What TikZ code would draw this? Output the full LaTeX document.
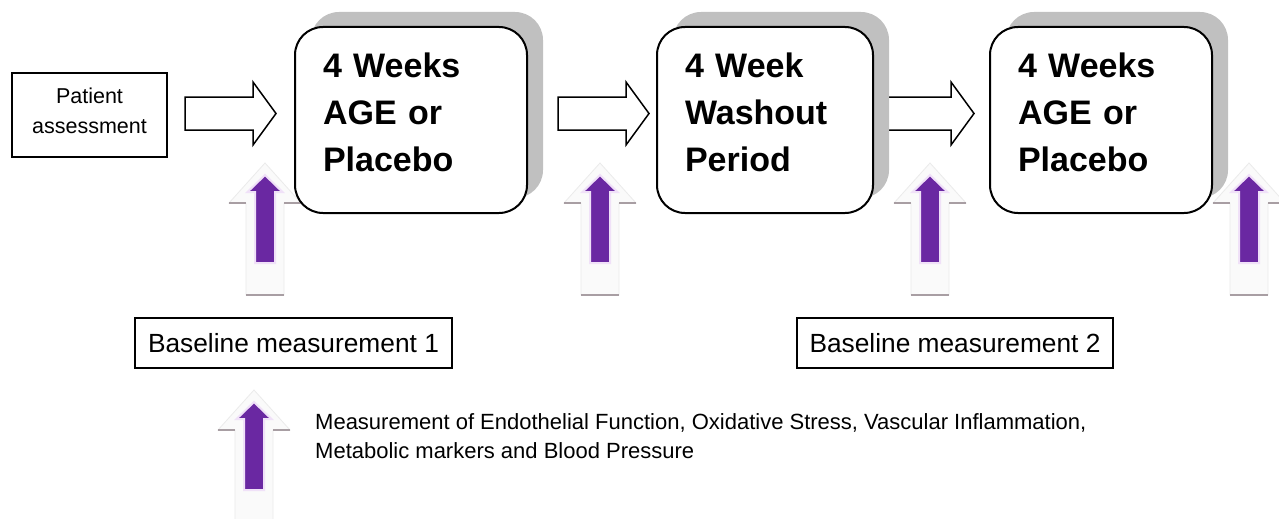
\documentclass[tikz,border=0pt]{standalone}
\usepackage{fontspec}
\setmainfont{Liberation Sans}
\usetikzlibrary{shadows}
\definecolor{purp}{RGB}{106,40,162}
\definecolor{shad}{RGB}{192,192,192}
\definecolor{tickc}{RGB}{168,158,163}
\definecolor{glow}{RGB}{240,225,248}
\begin{document}
\begin{tikzpicture}[x=1pt,y=-1pt,
  stagebox/.style={draw=black, line width=2pt, rounded corners=28pt, fill=white,
    minimum height=186pt, inner xsep=28pt, inner ysep=0pt, align=left,
    font=\fontsize{34}{47}\selectfont\bfseries,
    general shadow={shadow xshift=16pt, shadow yshift=15pt, fill=shad}},
  plainbox/.style={draw=black, line width=1.5pt, fill=white, inner sep=0pt, align=center},
  harrow/.pic={
    \draw[line width=1.5pt, fill=white, line join=miter]
      (0,-16.5) -- (68,-16.5) -- (68,-31.5) -- (91,0) -- (68,31.5) -- (68,16.5) -- (0,16.5) -- cycle;},
  varrow/.pic={
    \draw[draw=black!8, fill=black!2, line width=0.8pt]
      (-19,120) -- (-19,28) -- (-36,28) -- (0,-12) -- (36,28) -- (19,28) -- (19,120) -- cycle;
    \draw[tickc, line width=1.5pt] (-36,28) -- (-19,28) (19,28) -- (36,28) (-19,120) -- (19,120);
    \draw[draw=glow, line width=2pt, fill=purp, line join=miter]
      (-10,88) -- (-10,17) -- (-17.5,17) -- (0,0) -- (17.5,17) -- (10,17) -- (10,88) -- cycle;}
]
\useasboundingbox (0,0) rectangle (1279,519);
\clip (0,0) rectangle (1279,519);
\fill[white] (0,0) rectangle (1279,519);

% vertical measurement arrows
\pic (m1) at (265,175) {varrow};
\pic (m2) at (600,175) {varrow};
\pic (m3) at (930,175) {varrow};
\pic (m4) at (1249,175) {varrow};
\pic (mk) at (254,402) {varrow};

% horizontal block arrows
\pic (h1) at (185,113.5) {harrow};
\pic (h2) at (558,113.5) {harrow};
\pic (h3) at (883,113.5) {harrow};

% patient box
\node[plainbox, minimum width=155pt, minimum height=84pt,
      font=\fontsize{21.5}{30}\selectfont] (pa) at (89.5,115)
  {Patient\\assessment\rule[-8pt]{0pt}{8pt}};

% stage boxes
\node[stagebox, text width=176pt] (s1) at (411,120)
  {4 Weeks\\AGE or\\Placebo\rule[-15pt]{0pt}{15pt}};
\node[stagebox, text width=160pt] (s2) at (765,120)
  {4 Week\\Washout\\Period\rule[-15pt]{0pt}{15pt}};
\node[stagebox, text width=166pt] (s3) at (1101,120)
  {4 Weeks\\AGE or\\Placebo\rule[-15pt]{0pt}{15pt}};

% baseline boxes
\node[plainbox, minimum width=317pt, minimum height=50pt,
      font=\fontsize{26.3}{30}\selectfont] (b1) at (293.5,343)
  {Baseline measurement 1};
\node[plainbox, minimum width=316pt, minimum height=50pt,
      font=\fontsize{26.3}{30}\selectfont] (b2) at (955,343)
  {Baseline measurement 2};

% legend text
\node[anchor=base west, inner sep=0pt, align=left,
      font=\fontsize{22}{29}\selectfont] (lg) at (315,458)
  {Measurement of Endothelial Function, Oxidative Stress, Vascular Inflammation,\\
   Metabolic markers and Blood Pressure};
\end{tikzpicture}
\end{document}
